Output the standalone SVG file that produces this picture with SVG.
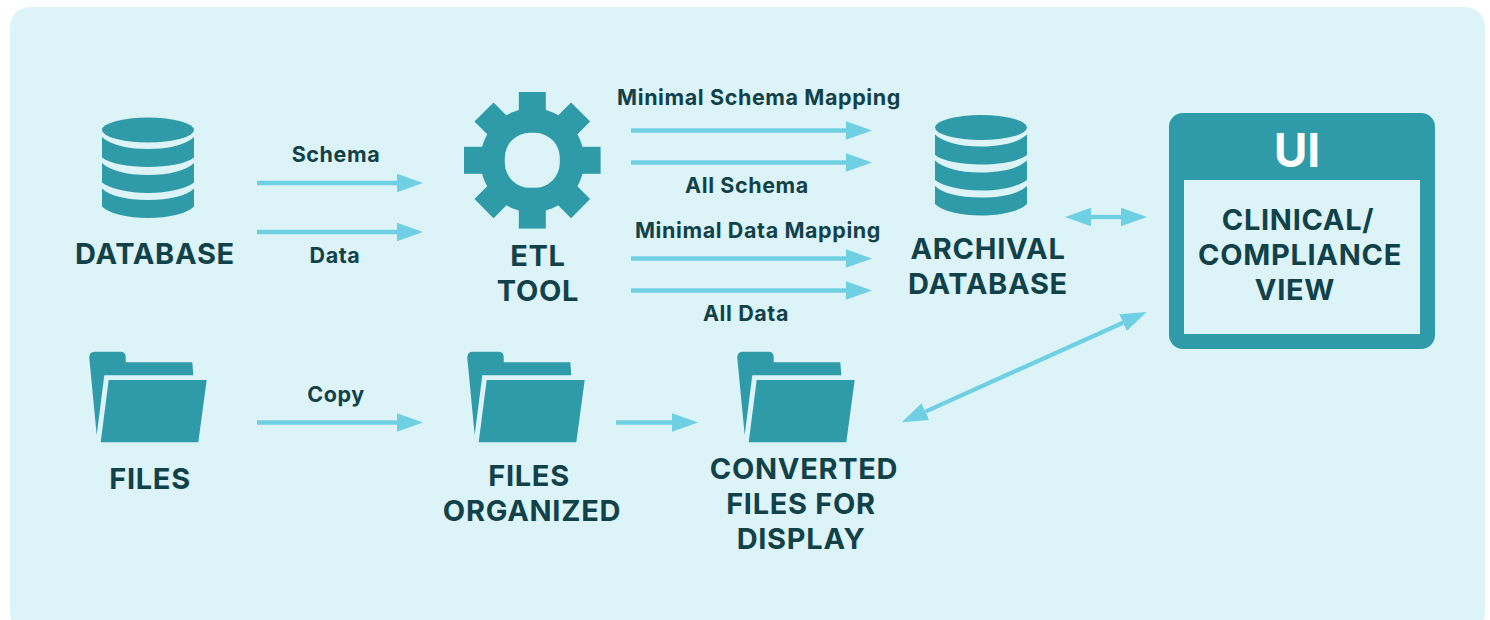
<svg xmlns="http://www.w3.org/2000/svg" xmlns:xlink="http://www.w3.org/1999/xlink" width="1490" height="620" viewBox="0 0 1490 620">
<style>
text{font-family:Inter,"Liberation Sans",sans-serif;fill:#124249;text-anchor:middle}
.t{font-size:29px;font-weight:700;letter-spacing:.7px}
.l{font-size:21.5px;font-weight:700;letter-spacing:.6px}
.i{fill:#2f9aa8}
.c line{stroke:#70d0e3;stroke-width:4.3}
</style>
<defs>
<marker id="h" markerUnits="userSpaceOnUse" markerWidth="26" markerHeight="20" refX="0" refY="10" orient="auto-start-reverse"><path d="M0 .8L26 10L0 19.200Z" fill="#70d0e3"/></marker>
<g id="db" class="i">
<ellipse cx="46" cy="12.500" rx="46" ry="12.500"/>
<path d="M0 19.500C8 27 24 31.500 46 31.500S84 27 92 19.500V40C84 46 66 49.500 46 49.500S8 46 0 40Z"/>
<path d="M0 45.500C8 53 24 57.500 46 57.500S84 53 92 45.500V65C84 71 66 75.500 46 75.500S8 71 0 65Z"/>
<path d="M0 71C8 78.500 24 82.500 46 82.500S84 78.500 92 71V89C84 96.500 66 100.500 46 100.500S8 96.500 0 89Z"/>
</g>
<g id="folder" class="i">
<path d="M89.300 358Q89 351.700 95 351.700H120Q125.700 351.700 125.700 357V362.300H192.300L193.300 375.300H104.300L96.700 435Z"/>
<path d="M108.700 380H206.700L198.300 442.300H100.700Z"/>
</g>
<rect id="tooth" x="-13.500" y="-68.300" width="27" height="30"/>
</defs>
<rect x="10" y="7" width="1475" height="625" rx="20" fill="#dcf3f8"/>
<g id="connectors" class="c">
<line x1="257" y1="183" x2="397" y2="183" marker-end="url(#h)"/>
<line x1="257" y1="232" x2="397" y2="232" marker-end="url(#h)"/>
<line x1="631" y1="130.500" x2="846" y2="130.500" marker-end="url(#h)"/>
<line x1="631" y1="162.500" x2="846" y2="162.500" marker-end="url(#h)"/>
<line x1="631" y1="258.500" x2="846" y2="258.500" marker-end="url(#h)"/>
<line x1="631" y1="290.500" x2="846" y2="290.500" marker-end="url(#h)"/>
<line x1="257" y1="422.500" x2="397" y2="422.500" marker-end="url(#h)"/>
<line x1="616" y1="422.500" x2="672" y2="422.500" marker-end="url(#h)"/>
<line x1="1091" y1="217" x2="1121" y2="217" marker-start="url(#h)" marker-end="url(#h)"/>
<line x1="925.400" y1="411.600" x2="1123" y2="322.700" marker-start="url(#h)" marker-end="url(#h)"/>
</g>
<g id="label-schema"><text class="l" x="336" y="162">Schema</text></g>
<g id="label-data"><text class="l" x="335" y="263">Data</text></g>
<g id="label-copy"><text class="l" x="336" y="402">Copy</text></g>
<g id="label-min-schema"><text class="l" x="759" y="105">Minimal Schema Mapping</text></g>
<g id="label-all-schema"><text class="l" x="747" y="193">All Schema</text></g>
<g id="label-min-data"><text class="l" x="758" y="238">Minimal Data Mapping</text></g>
<g id="label-all-data"><text class="l" x="746" y="321">All Data</text></g>
<g id="database"><use xlink:href="#db" href="#db" x="102" y="117.500"/><text class="t" x="155" y="264">DATABASE</text></g>
<g id="etl-tool">
<g class="i" transform="translate(532.300 160.300)">
<circle r="52"/>
<use xlink:href="#tooth" href="#tooth"/>
<use xlink:href="#tooth" href="#tooth" transform="rotate(45)"/>
<use xlink:href="#tooth" href="#tooth" transform="rotate(90)"/>
<use xlink:href="#tooth" href="#tooth" transform="rotate(135)"/>
<use xlink:href="#tooth" href="#tooth" transform="rotate(180)"/>
<use xlink:href="#tooth" href="#tooth" transform="rotate(225)"/>
<use xlink:href="#tooth" href="#tooth" transform="rotate(270)"/>
<use xlink:href="#tooth" href="#tooth" transform="rotate(315)"/>
<rect x="-27.500" y="-27.500" width="55" height="55" rx="25" fill="#dcf3f8"/>
</g>
<text class="t" x="538" y="265.500">ETL</text><text class="t" x="538" y="300.500">TOOL</text>
</g>
<g id="archival-database"><use xlink:href="#db" href="#db" x="935" y="115"/><text class="t" x="988" y="259">ARCHIVAL</text><text class="t" x="988" y="294">DATABASE</text></g>
<g id="ui">
<rect class="i" x="1169" y="113" width="266" height="236" rx="14"/>
<rect x="1184" y="180" width="236" height="154" fill="#dcf3f8"/>
<text x="1297" y="166.500" font-size="46" font-weight="700" style="fill:#fff">UI</text>
<text class="t" x="1298" y="229.500">CLINICAL/</text><text class="t" x="1300" y="264.500">COMPLIANCE</text><text class="t" x="1295" y="299.500">VIEW</text>
</g>
<g id="files"><use xlink:href="#folder" href="#folder"/><text class="t" x="150" y="488.500">FILES</text></g>
<g id="files-organized"><use xlink:href="#folder" href="#folder" x="378"/><text class="t" x="529" y="485.500">FILES</text><text class="t" x="532" y="520.500">ORGANIZED</text></g>
<g id="converted-files"><use xlink:href="#folder" href="#folder" x="648"/><text class="t" x="804" y="478.500">CONVERTED</text><text class="t" x="801" y="513.500">FILES FOR</text><text class="t" x="801" y="548.500">DISPLAY</text></g>
</svg>
